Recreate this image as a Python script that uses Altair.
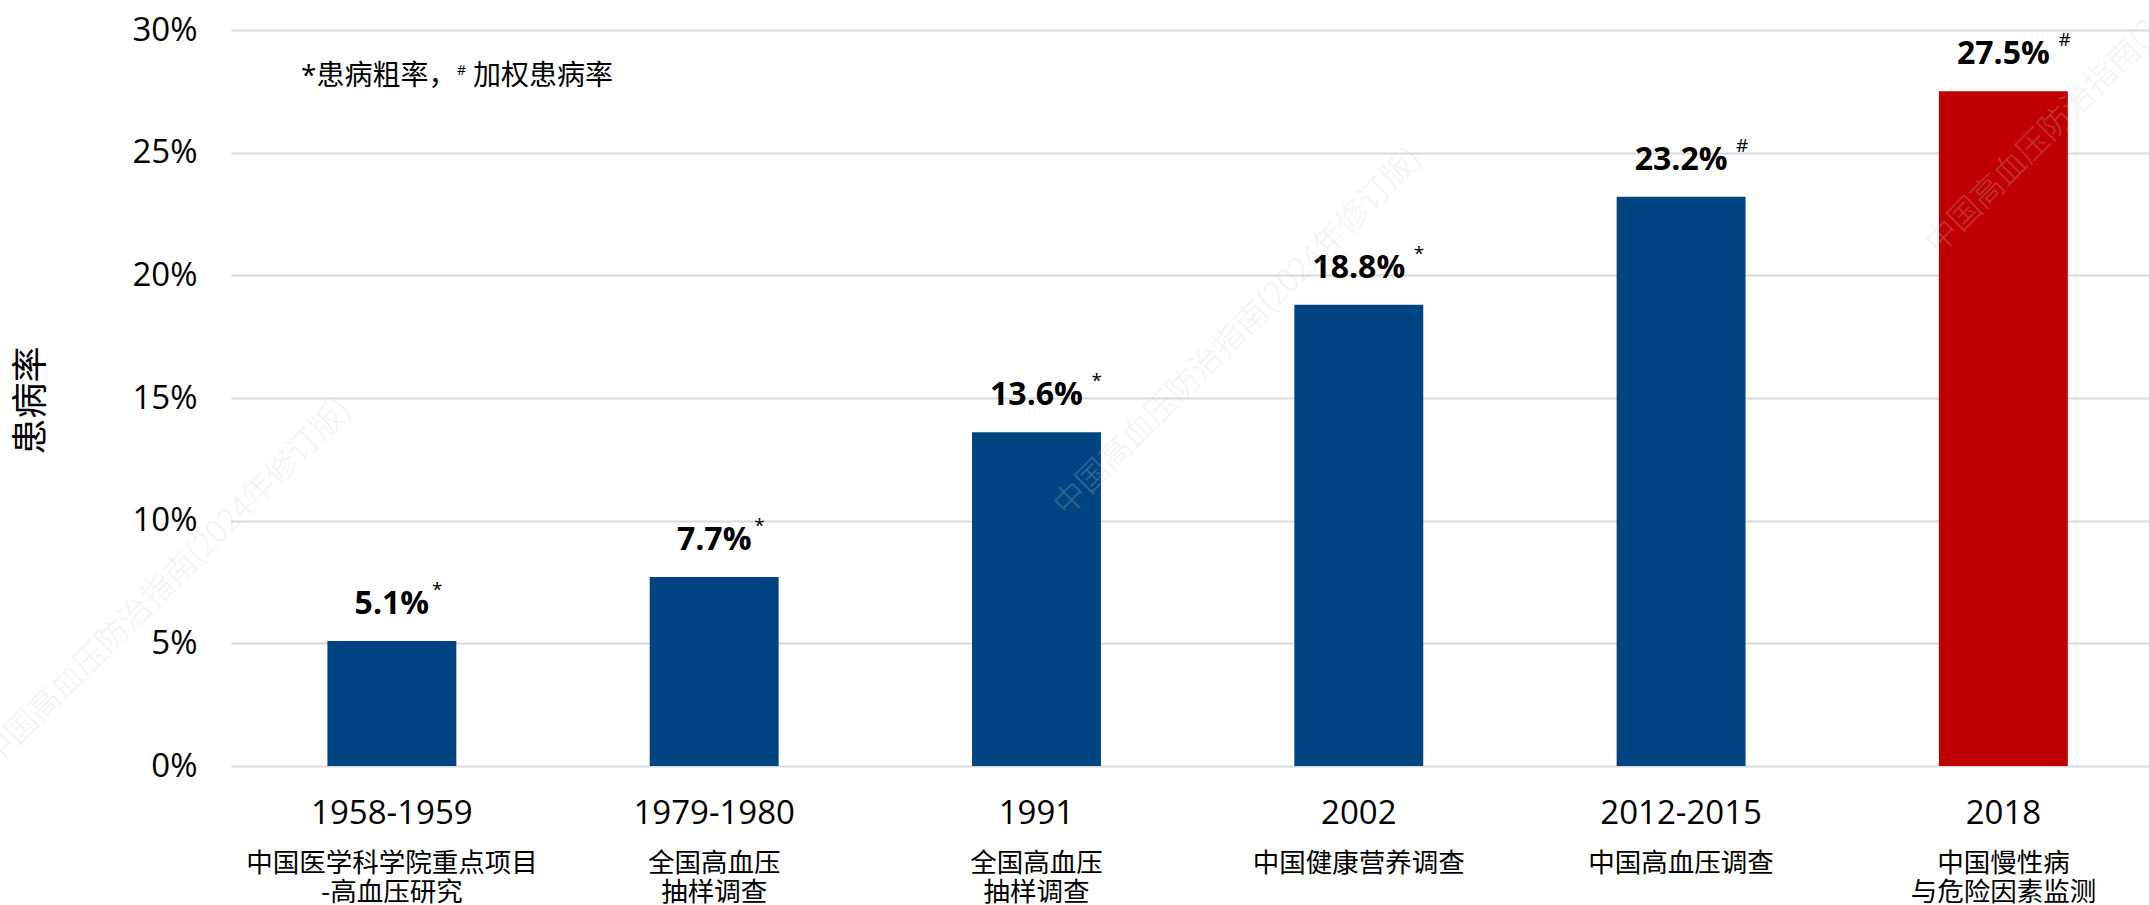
import altair as alt
import pandas as pd

# Survey periods, survey names and hypertension prevalence (%)
years = ["1958-1959", "1979-1980", "1991", "2002", "2012-2015", "2018"]
surveys = [
    "中国医学科学院重点项目\n-高血压研究",
    "全国高血压\n抽样调查",
    "全国高血压\n抽样调查",
    "中国健康营养调查",
    "中国高血压调查",
    "中国慢性病\n与危险因素监测",
]
prevalence = [5.1, 7.7, 13.6, 18.8, 23.2, 27.5]
rate_kind = ["*", "*", "*", "*", "#", "#"]  # * crude rate, # weighted rate
y_ticks = [0, 5, 10, 15, 20, 25, 30]

note_crude = "*患病粗率，"
note_weighted = "加权患病率"
watermark = "中国高血压防治指南(2024年修订版)"

BLUE = "#004581"
RED = "#C00000"
GRID = "#d9d9d9"
LATIN = "Open Sans, Noto Sans CJK SC"
CJK = "Noto Sans CJK SC"

W, H = 1918, 736

df = pd.DataFrame({"year": years, "survey": surveys, "rate": prevalence, "kind": rate_kind})
df["label"] = [f"{v:.1f}%" for v in prevalence]

x_enc = alt.X(
    "year:N",
    sort=years,
    scale=alt.Scale(paddingInner=0.6, paddingOuter=0.2755, align=0.543),
    axis=alt.Axis(
        title=None, labelAngle=0, labelFont=LATIN, labelFontSize=33,
        labelColor="black", labelPadding=31, ticks=False, tickSize=0,
        domain=False, grid=False,
    ),
)
y_enc = alt.Y(
    "rate:Q",
    scale=alt.Scale(domain=[0, 30], nice=False),
    axis=alt.Axis(
        values=y_ticks, labelExpr="datum.value + '%'", labelFont=LATIN,
        labelFontSize=33, labelColor="black", labelPadding=34,
        ticks=False, tickSize=0, domain=False,
        grid=True, gridColor=GRID, gridWidth=2,
        title="患病率", titleFont=CJK, titleFontSize=36, titleFontWeight="normal",
        titleColor="black", titleAngle=270, titleX=-200, titleY=370,
        titleAlign="center", titleBaseline="middle",
    ),
)

base = alt.Chart(df)

bars = base.mark_bar().encode(
    x=x_enc,
    y=y_enc,
    color=alt.condition(alt.datum.year == "2018", alt.value(RED), alt.value(BLUE)),
)

values = base.mark_text(
    dy=-27, baseline="alphabetic", font=LATIN, fontSize=32, fontWeight="bold", color="black"
).encode(x=x_enc, y=y_enc, text="label:N")

# superscript rate markers, set just right of each value label
sup_layers = []
for n in sorted(set(len(s) for s in df["label"])):
    sup_layers.append(
        base.transform_filter(f"length(datum.label) == {n}")
        .mark_text(dx=15 * n - 20, dy=-45, align="left", baseline="alphabetic",
                   font=LATIN, fontSize=19, color="black")
        .encode(x=x_enc, y=y_enc, text="kind:N")
    )

descriptions = base.mark_text(
    baseline="top", align="center", lineBreak="\n", font=CJK, fontSize=26.5,
    lineHeight=29, color="black",
).encode(x=x_enc, y=alt.value(821), text="survey:N")


def label(text, px, py, **style):
    return alt.Chart(pd.DataFrame({"t": [text]})).mark_text(**style).encode(
        x=alt.value(px), y=alt.value(py), text="t:N"
    )


notes = [
    label(note_crude, 70, 47, align="left", baseline="middle", font=LATIN, fontSize=28, color="black"),
    label("#", 226, 45, align="left", baseline="alphabetic", font=LATIN, fontSize=14, color="black"),
    label(note_weighted, 242, 47, align="left", baseline="middle", font=CJK, fontSize=28, color="black"),
]

marks = [
    label(watermark, wx, wy, align="center", baseline="middle", angle=315, font=CJK,
          fontSize=32, fontWeight=300, color="#cfcfcf", opacity=0.24)
    for wx, wy in [(-64, 553), (1007, 302), (1879, 40)]
]

chart = (
    alt.layer(bars, values, *sup_layers, descriptions, *notes, *marks)
    .properties(
        width=W,
        height=H,
        autosize=alt.AutoSizeParams(type="none"),
        padding={"left": 231, "top": 30, "right": 0, "bottom": 139},
        background="white",
    )
    .configure_view(stroke=None)
)

chart.save("out.html", embed_options={"renderer": "svg", "actions": False})
